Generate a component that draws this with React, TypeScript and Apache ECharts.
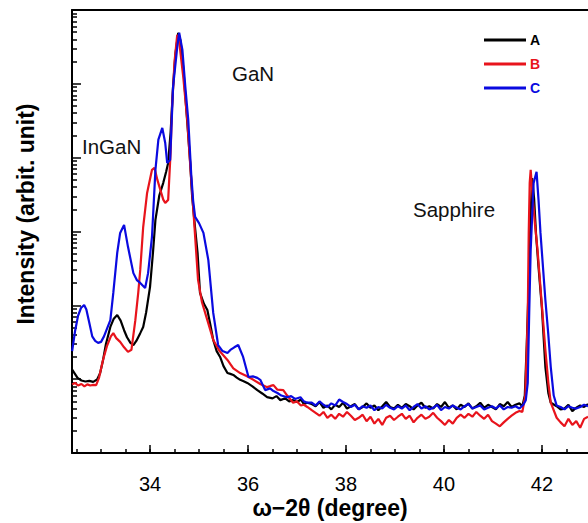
import React, { useEffect, useRef } from "react";
import * as echarts from "echarts";

const seriesNames = ["A", "B", "C"];
const seriesColors = ["#000000", "#e8141c", "#0a0ae0"];

const xTickValues = [32.5, 33, 33.5, 34, 34.5, 35, 35.5, 36, 36.5, 37, 37.5, 38, 38.5, 39, 39.5, 40, 40.5, 41, 41.5, 42, 42.5];
const xLabelValues = [34, 36, 38, 40, 42];
const yDecadeValues = [1, 10, 100, 1000, 10000, 100000, 1000000];
const yMinorValues = [
  2, 3, 4, 5, 6, 7, 8, 9,
  20, 30, 40, 50, 60, 70, 80, 90,
  200, 300, 400, 500, 600, 700, 800, 900,
  2000, 3000, 4000, 5000, 6000, 7000, 8000, 9000,
  20000, 30000, 40000, 50000, 60000, 70000, 80000, 90000,
  200000, 300000, 400000, 500000, 600000, 700000, 800000, 900000,
];

// Main (InGaN / GaN) region, [2theta, intensity]
const aMain = [
  [32.41, 13.5], [32.46, 12.0], [32.52, 10.4], [32.6, 9.6], [32.68, 9.3], [32.76, 9.5], [32.84, 9.2], [32.92, 9.9],
  [32.98, 12], [33.04, 18], [33.1, 30], [33.19, 51], [33.26, 66], [33.33, 74], [33.4, 62], [33.47, 46], [33.53, 37],
  [33.6, 31], [33.66, 29], [33.72, 33], [33.8, 42], [33.86, 51], [33.92, 80], [34.0, 178], [34.06, 520], [34.11, 1440],
  [34.19, 3100], [34.27, 4560], [34.33, 6500], [34.37, 8500], [34.42, 22000], [34.47, 91000], [34.52, 260000],
  [34.575, 491000], [34.62, 390000], [34.68, 160000], [34.76, 30000], [34.82, 8500], [34.86, 2940], [34.92, 1100],
  [34.97, 513], [35.02, 147], [35.1, 105], [35.17, 86.6], [35.23, 55], [35.29, 34], [35.36, 24], [35.43, 20],
  [35.5, 15], [35.58, 12.1], [35.64, 11.8], [35.7, 11.4], [35.77, 10.5], [35.84, 9.8], [35.91, 9.4], [35.985, 8.9],
  [36.09, 8.0], [36.19, 7.1], [36.29, 6.4], [36.39, 5.7], [36.5, 5.5], [36.58, 5.9], [36.66, 5.2], [36.76, 5.5],
  [36.84, 5.0], [36.92, 5.2], [37.0, 4.9], [37.08, 5.3], [37.14, 4.6], [37.21, 4.8],
];
const bMain = [
  [32.41, 8.5], [32.47, 8.9], [32.53, 8.2], [32.6, 8.6], [32.66, 8.0], [32.72, 8.5], [32.78, 8.2], [32.84, 8.35],
  [32.9, 8.3], [32.96, 10.5], [33.04, 18.2], [33.12, 28], [33.2, 38], [33.25, 42], [33.31, 36], [33.39, 32],
  [33.47, 27], [33.55, 23.4], [33.62, 25], [33.7, 63], [33.76, 150], [33.8, 302], [33.86, 1150], [33.94, 3330],
  [34.04, 6840], [34.09, 7280], [34.15, 5000], [34.21, 3660], [34.27, 2700], [34.31, 2440], [34.37, 2680],
  [34.42, 12000], [34.45, 48800], [34.5, 200000], [34.555, 461000], [34.6, 350000], [34.68, 120000], [34.76, 32500],
  [34.82, 8000], [34.88, 2150], [34.98, 221], [35.06, 110], [35.17, 63], [35.29, 34], [35.42, 24], [35.58, 18.2],
  [35.7, 14], [35.84, 12.1], [35.97, 11], [36.11, 9.8], [36.25, 8.6], [36.39, 7.8], [36.46, 8.1], [36.52, 8.3],
  [36.6, 7.2], [36.72, 7.1], [36.8, 6.0], [36.92, 4.8], [37.0, 5.0], [37.08, 4.4], [37.14, 4.5], [37.21, 4.2],
];
const cMain = [
  [32.41, 24], [32.47, 45], [32.53, 72], [32.59, 92], [32.655, 101], [32.7, 88], [32.76, 58], [32.82, 38],
  [32.88, 33], [32.94, 31], [33.0, 32], [33.06, 38], [33.12, 48], [33.19, 63], [33.25, 147], [33.33, 513],
  [33.39, 957], [33.47, 1228], [33.55, 620], [33.66, 273], [33.73, 220], [33.8, 201], [33.9, 172], [33.96, 273],
  [34.04, 850], [34.11, 6840], [34.17, 17600], [34.25, 25300], [34.31, 15800], [34.35, 8500], [34.41, 9300],
  [34.47, 91000], [34.555, 315000], [34.595, 491000], [34.66, 290000], [34.72, 91000], [34.78, 32500],
  [34.84, 6000], [34.88, 2600], [34.92, 1580], [35.0, 1300], [35.09, 957], [35.19, 410], [35.29, 79], [35.39, 29],
  [35.48, 24], [35.58, 22.6], [35.64, 24.9], [35.72, 27], [35.8, 29], [35.9, 20], [36.01, 10.7], [36.1, 10.9],
  [36.19, 10.4], [36.25, 9.8], [36.35, 7.1], [36.45, 7.5], [36.52, 6.9], [36.6, 6.5], [36.68, 6.0], [36.8, 5.7],
  [36.88, 5.9], [36.96, 5.4], [37.07, 5.7], [37.14, 5.0], [37.21, 4.8],
];

// Flat background between GaN and sapphire
const baseX = [
  37.3, 37.38, 37.46, 37.54, 37.62, 37.7, 37.78, 37.86, 37.94, 38.02, 38.1, 38.18, 38.26, 38.34, 38.42, 38.5, 38.58,
  38.66, 38.74, 38.82, 38.9, 38.98, 39.06, 39.14, 39.22, 39.3, 39.38, 39.46, 39.54, 39.62, 39.7, 39.78, 39.86, 39.94,
  40.02, 40.1, 40.18, 40.26, 40.34, 40.42, 40.5, 40.58, 40.66, 40.74, 40.82, 40.9, 40.98, 41.06, 41.14, 41.22, 41.3,
  41.38, 41.46, 41.54,
];
const aBase = [
  4.6, 4.3, 4.9, 4.1, 4.4, 3.9, 4.5, 4.2, 4.8, 4.0, 4.3, 4.6, 3.9, 4.2, 4.7, 4.1, 4.4, 3.8, 4.3, 4.9, 4.2, 4.0, 4.5,
  4.1, 4.6, 4.3, 3.9, 4.4, 4.8, 4.1, 4.3, 4.0, 4.6, 4.2, 4.9, 4.1, 4.4, 3.9, 4.5, 4.2, 4.7, 4.0, 4.3, 4.8, 4.1, 4.5,
  4.2, 3.9, 4.6, 4.3, 4.9, 4.2, 4.5, 4.7,
];
const bBase = [
  3.8, 3.5, 3.2, 3.6, 3.0, 3.3, 2.9, 3.4, 3.1, 3.6, 3.2, 2.8, 3.0, 3.3, 2.7, 3.1, 2.5, 2.9, 2.4, 3.0, 3.2, 2.8, 3.1,
  3.4, 2.9, 3.2, 2.6, 3.0, 3.3, 2.9, 3.1, 3.5, 3.0, 2.7, 2.4, 2.8, 2.5, 3.0, 3.3, 3.0, 3.4, 3.1, 3.6, 3.2, 2.9, 3.3,
  2.7, 2.5, 2.3, 2.6, 2.9, 3.2, 3.5, 3.7,
];
const cBase = [
  4.8, 4.4, 5.0, 4.5, 4.2, 4.7, 4.4, 5.3, 4.9, 4.6, 4.2, 4.5, 3.9, 4.3, 4.1, 4.4, 3.8, 4.2, 4.0, 4.5, 4.1, 3.9, 4.3,
  4.0, 4.4, 3.8, 4.2, 4.6, 4.0, 4.3, 3.9, 4.1, 4.5, 3.8, 4.2, 4.0, 4.4, 4.1, 3.9, 4.3, 4.6, 4.0, 4.2, 4.4, 3.9, 4.1,
  4.3, 4.0, 4.4, 3.9, 4.2, 4.1, 4.3, 4.0,
];

// Sapphire reflection
const aSap = [
  [41.6, 4.3], [41.65, 6], [41.69, 30], [41.73, 201], [41.77, 1800], [41.8, 5300], [41.84, 2800], [41.88, 900],
  [41.93, 332], [42.0, 90], [42.07, 14.6], [42.13, 6.5], [42.18, 4.8],
];
const bSap = [
  [41.6, 3.6], [41.66, 6], [41.71, 69.6], [41.73, 957], [41.75, 4560], [41.77, 6840], [41.81, 3000], [41.86, 1200],
  [41.91, 563], [41.99, 118], [42.07, 24.9], [42.13, 9], [42.18, 4.8],
];
const cSap = [
  [41.62, 4.5], [41.67, 5.2], [41.71, 8.9], [41.74, 80], [41.77, 563], [41.83, 4560], [41.89, 6420], [41.93, 2680],
  [41.97, 957], [42.07, 118], [42.13, 40], [42.18, 14.6], [42.24, 6.0],
];

const tailX = [42.3, 42.38, 42.46, 42.54, 42.62, 42.7, 42.78, 42.86, 42.94];
const aTail = [4.3, 3.9, 4.0, 4.5, 3.7, 4.1, 4.4, 4.2, 4.6];
const bTail = [3.0, 2.6, 2.3, 2.9, 2.4, 2.7, 2.2, 2.9, 3.1];
const cTail = [4.4, 4.2, 3.9, 4.3, 4.1, 4.0, 4.2, 4.5, 4.3];

const annotations = [
  { text: "InGaN", x: 82, y: 146 },
  { text: "GaN", x: 232, y: 73 },
  { text: "Sapphire", x: 413, y: 209 },
];

const FONT = '"Liberation Sans", Arial, sans-serif';

function build(main: number[][], base: number[], sap: number[][], tail: number[]) {
  return [
    ...main,
    ...baseX.map((x, i) => [x, base[i]]),
    ...sap,
    ...tailX.map((x, i) => [x, tail[i]]),
  ];
}

export default function App() {
  const ref = useRef<HTMLDivElement>(null);
  useEffect(() => {
    if (!ref.current) return;
    const chart = echarts.init(ref.current, undefined, { renderer: "svg" });
    const datasets = [
      build(aMain, aBase, aSap, aTail),
      build(bMain, bBase, bSap, bTail),
      build(cMain, cBase, cSap, cTail),
    ];
    const xMin = 32.407;
    const xMax = 42.94;
    chart.setOption({
      animation: false,
      backgroundColor: "#ffffff",
      grid: { left: 72, right: 0, top: 10, bottom: 70, containLabel: false, outerBoundsMode: "none" },
      legend: {
        orient: "vertical",
        left: 484,
        top: 33,
        icon: "rect",
        itemWidth: 42,
        itemHeight: 3,
        itemGap: 10,
        padding: 0,
        selectedMode: false,
        textStyle: { fontFamily: FONT, fontWeight: "bold", fontSize: 14, padding: [0, 0, 0, -1] },
        data: seriesNames.map((n, i) => ({ name: n, textStyle: { color: seriesColors[i] } })),
      },
      xAxis: [
        {
          type: "value",
          min: xMin,
          max: xMax,
          position: "bottom",
          axisLine: { show: true, onZero: false, lineStyle: { color: "#000", width: 2 } },
          axisTick: { show: true, inside: true, length: 4, customValues: xTickValues, lineStyle: { color: "#000", width: 1.5 } },
          axisLabel: { show: false },
          splitLine: { show: false },
          name: "ω−2θ (degree)",
          nameLocation: "middle",
          nameGap: 43,
          nameTextStyle: { fontFamily: FONT, fontWeight: "bold", fontSize: 23, color: "#000" },
        },
        {
          type: "value",
          min: xMin,
          max: xMax,
          position: "bottom",
          offset: 0,
          axisLine: { show: false, onZero: false },
          axisTick: { show: true, inside: true, length: 8, customValues: xLabelValues, lineStyle: { color: "#000", width: 1.5 } },
          axisLabel: { show: true, customValues: xLabelValues, fontFamily: FONT, fontSize: 20, color: "#000", margin: 21 },
          splitLine: { show: false },
        },
        {
          type: "value",
          min: xMin,
          max: xMax,
          position: "top",
          axisLine: { show: true, onZero: false, lineStyle: { color: "#000", width: 2 } },
          axisTick: { show: false },
          axisLabel: { show: false },
          splitLine: { show: false },
        },
      ],
      yAxis: [
        {
          type: "log",
          logBase: 10,
          min: 1,
          max: 1000000,
          position: "left",
          axisLine: { show: true, onZero: false, lineStyle: { color: "#000", width: 2 } },
          axisTick: { show: true, inside: true, length: 5, customValues: yMinorValues, lineStyle: { color: "#000", width: 1.5 } },
          axisLabel: { show: false },
          splitLine: { show: false },
          name: "Intensity (arbit. unit)",
          nameLocation: "middle",
          nameGap: 35,
          nameTextStyle: { fontFamily: FONT, fontWeight: "bold", fontSize: 23, color: "#000", padding: [0, 0, 0, 35] },
        },
        {
          type: "log",
          logBase: 10,
          min: 1,
          max: 1000000,
          position: "left",
          offset: 0,
          axisLine: { show: false, onZero: false },
          axisTick: { show: true, inside: true, length: 9, customValues: yDecadeValues, lineStyle: { color: "#000", width: 1.5 } },
          axisLabel: { show: false },
          splitLine: { show: false },
        },
      ],
      graphic: annotations.map((a) => ({
        type: "text",
        x: a.x,
        y: a.y,
        silent: true,
        style: { text: a.text, fill: "#111", fontFamily: FONT, fontSize: 20.5, align: "left", verticalAlign: "middle" },
      })),
      series: seriesNames.map((n, i) => ({
        name: n,
        type: "line",
        xAxisIndex: 0,
        yAxisIndex: 0,
        data: datasets[i],
        showSymbol: false,
        symbol: "none",
        color: seriesColors[i],
        lineStyle: { color: seriesColors[i], width: 2.2 },
        emphasis: { disabled: true },
      })),
    });
    return () => chart.dispose();
  }, []);
  return (
    <div
      ref={ref}
      style={{ position: "absolute", left: 0, top: 0, width: 588, height: 523, background: "#fff" }}
    />
  );
}
